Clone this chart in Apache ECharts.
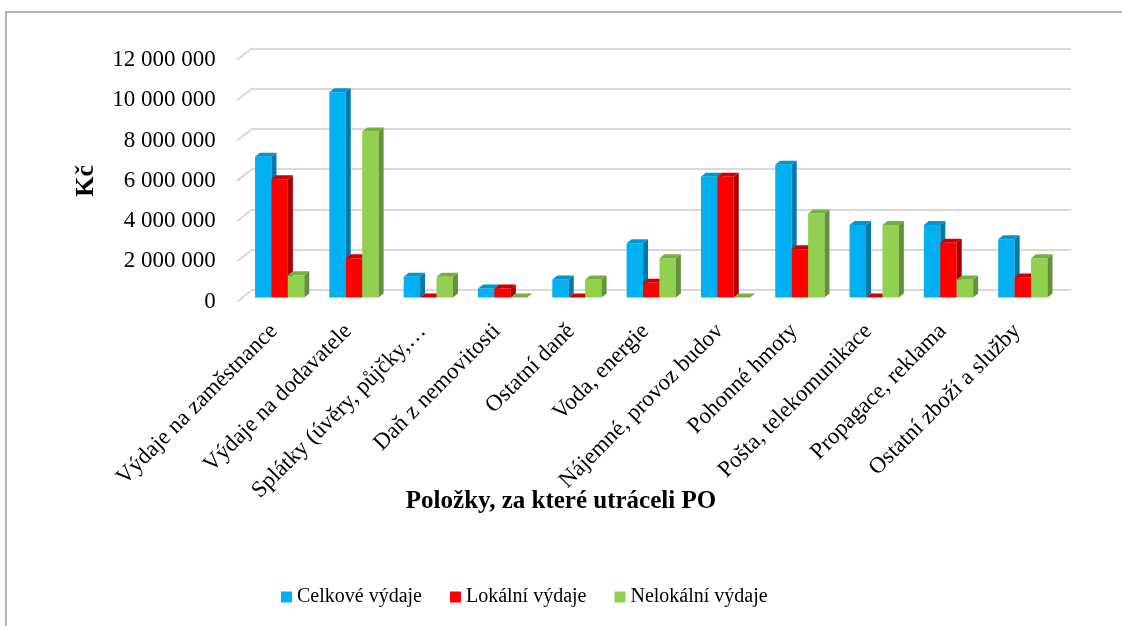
<!DOCTYPE html>
<html lang="cs">
<head>
<meta charset="UTF-8" />
<title>Výdaje PO</title>
<style>
  html, body { margin: 0; padding: 0; background: #fff; }
  #main { width: 1122px; height: 626px; }
</style>
</head>
<body>
<div id="main"></div>
<script src="https://cdn.jsdelivr.net/npm/echarts@6/dist/echarts.min.js"></script>
<script>
// data
var categories = [
  "Výdaje na zaměstnance",
  "Výdaje na dodavatele",
  "Splátky (úvěry, půjčky,…",
  "Daň z nemovitosti",
  "Ostatní daně",
  "Voda, energie",
  "Nájemné, provoz budov",
  "Pohonné hmoty",
  "Pošta, telekomunikace",
  "Propagace, reklama",
  "Ostatní zboží a služby"
];
var celkove   = [7000000, 10200000, 1030000, 450000, 900000, 2700000, 6000000, 6600000, 3600000, 3600000, 2900000];
var lokalni   = [5880000, 1950000, 0, 450000, 0, 730000, 6000000, 2400000, 0, 2720000, 1000000];
var nelokalni = [1100000, 8250000, 1030000, 0, 900000, 1950000, 0, 4180000, 3600000, 900000, 1950000];
var yTicks = [0, 2000000, 4000000, 6000000, 8000000, 10000000, 12000000];

var seriesNames = ["Celkové výdaje", "Lokální výdaje", "Nelokální výdaje"];
var serif = '"Liberation Serif", "Times New Roman", serif';

// front / side / top colours of the 3D bars
var palette = [
  { front: "#00B0F0", side: "#0079A8", top: "#0096CF" },
  { front: "#FF0000", side: "#A80000", top: "#D00000" },
  { front: "#92D050", side: "#64923A", top: "#78AE40" }
];

var myChart = echarts.init(document.getElementById("main"));

function fmt(v) {
  return String(v).replace(/\B(?=(\d{3})+(?!\d))/g, " ");
}

// one 3d-looking bar series
function bar3d(idx, values) {
  var c = palette[idx];
  return {
    type: "custom",
    name: seriesNames[idx],
    xAxisIndex: 1,
    yAxisIndex: 1,
    itemStyle: { color: c.front },
    data: values.map(function (v, i) { return [i, v]; }),
    encode: { x: 0, y: 1 },
    renderItem: function (params, api) {
      var i = api.value(0);
      var top = api.coord([i, api.value(1)]);
      var base = api.coord([i, 0]);
      var band = api.size([1, 0])[0];
      var bw = band * 0.221;
      var x0 = top[0] - 1.5 * bw + idx * bw;
      var x1 = x0 + bw;
      var dx = 5, dy = 4;
      return {
        type: "group",
        children: [
          {
            type: "rect",
            shape: { x: x0, y: top[1], width: bw, height: base[1] - top[1] },
            style: { fill: c.front }
          },
          {
            type: "polygon",
            shape: { points: [[x1, top[1]], [x1 + dx, top[1] - dy], [x1 + dx, base[1] - dy], [x1, base[1]]] },
            style: { fill: c.side }
          },
          {
            type: "polygon",
            shape: { points: [[x0, top[1]], [x0 + dx, top[1] - dy], [x1 + dx, top[1] - dy], [x1, top[1]]] },
            style: { fill: c.top }
          }
        ]
      };
    }
  };
}

var option = {
  backgroundColor: "#fff",
  animation: false,
  title: {
    text: "Položky, za které utráceli PO",
    left: "center",
    top: 484,
    textStyle: { fontFamily: serif, fontSize: 25, fontWeight: "bold", color: "#000" }
  },
  legend: {
    data: seriesNames,
    left: 276,
    top: 582,
    icon: "rect",
    itemWidth: 11,
    itemHeight: 11,
    itemGap: 28,
    textStyle: { fontFamily: serif, fontSize: 20, color: "#000" }
  },
  graphic: [
    {
      type: "rect",
      shape: { x: 6, y: 12, width: 1200, height: 700 },
      style: { fill: "none", stroke: "#B4B4B4", lineWidth: 2 },
      silent: true
    }
  ],
  grid: [
    // back wall (gridlines)
    { left: 252, top: 48.3, width: 819, height: 241.7 },
    // bars (middle of the depth)
    { left: 242.5, top: 56, width: 817.5, height: 241.5 },
    // front edge of the floor (labels)
    { left: 236.8, top: 60, width: 817.5, height: 241.7 }
  ],
  xAxis: [
    { gridIndex: 0, type: "value", min: 0, max: 1, show: false },
    { gridIndex: 1, type: "category", data: categories, show: false },
    {
      gridIndex: 2,
      type: "category",
      data: categories,
      axisLine: { show: false },
      axisTick: { show: false },
      axisLabel: {
        rotate: 45,
        interval: 0,
        margin: 26,
        fontFamily: serif,
        fontSize: 23,
        color: "#000"
      }
    }
  ],
  yAxis: [
    {
      gridIndex: 0,
      type: "value",
      min: 0,
      max: 12000000,
      interval: 2000000,
      axisLine: { show: false },
      axisTick: { show: false },
      axisLabel: { show: false },
      splitLine: { lineStyle: { color: "#D9D9D9", width: 2 } }
    },
    { gridIndex: 1, type: "value", min: 0, max: 12000000, show: false },
    {
      gridIndex: 2,
      type: "value",
      min: 0,
      max: 12000000,
      interval: 2000000,
      name: "Kč",
      nameLocation: "middle",
      nameRotate: 90,
      nameGap: 138,
      nameTextStyle: { fontFamily: serif, fontSize: 26, fontWeight: "bold", color: "#000" },
      axisLine: { show: false },
      axisTick: { show: false },
      splitLine: { show: false },
      axisLabel: {
        margin: 21,
        fontFamily: serif,
        fontSize: 23,
        color: "#000",
        formatter: fmt
      }
    }
  ],
  series: [
    {
      // slanted floor lines from the back wall gridlines
      type: "custom",
      name: "floor",
      xAxisIndex: 0,
      yAxisIndex: 0,
      silent: true,
      data: yTicks.map(function (v) { return [0, v]; }),
      renderItem: function (params, api) {
        var p = api.coord([0, api.value(1)]);
        return {
          type: "line",
          shape: { x1: p[0], y1: p[1], x2: p[0] - 15, y2: p[1] + 11.7 },
          style: { stroke: "#D9D9D9", lineWidth: 2 }
        };
      }
    },
    bar3d(0, celkove),
    bar3d(1, lokalni),
    bar3d(2, nelokalni)
  ]
};

myChart.setOption(option);
</script>
</body>
</html>
